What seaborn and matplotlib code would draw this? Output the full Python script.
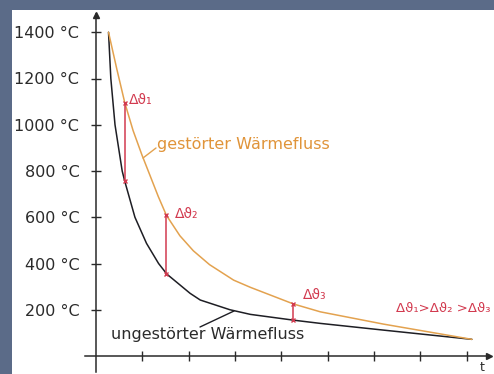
import numpy as np
import pandas as pd
import matplotlib
matplotlib.use("Agg")
import matplotlib.pyplot as plt
from matplotlib.patches import Rectangle
import seaborn as sns

# ---- data ----
t_ungestoert = [0.27, 0.32, 0.41, 0.565, 0.62, 0.84, 1.09, 1.35, 1.53, 2.03, 2.25, 2.89, 3.33, 4.26, 4.84, 6.2, 8.11]
T_ungestoert = [1400, 1200, 1000, 800, 756, 600, 487, 400, 354, 271, 242, 200, 180, 155, 141, 112, 72]

t_gestoert = [0.27, 0.45, 0.62, 0.8, 0.99, 1.345, 1.52, 1.81, 2.1, 2.45, 2.97, 3.33, 4.26, 4.84, 6.2, 8.11]
T_gestoert = [1400, 1240, 1096, 975, 870, 689, 608, 520, 455, 395, 328, 297, 225, 191, 138, 72]

delta_t = [0.62, 1.52, 4.26]
delta_top = [1096, 608, 225]
delta_bottom = [756, 354, 155]
delta_labels = ["Δϑ₁", "Δϑ₂", "Δϑ₃"]

y_ticks = [200, 400, 600, 800, 1000, 1200, 1400]
y_tick_labels = ["200 °C", "400 °C", "600 °C", "800 °C", "1000 °C", "1200 °C", "1400 °C"]
x_ticks = [1, 2, 3, 4, 5, 6, 7, 8]

label_gestoert = "gestörter Wärmefluss"
label_ungestoert = "ungestörter Wärmefluss"
label_relation = "Δϑ₁>Δϑ₂ >Δϑ₃"

# ---- style ----
sns.set_style("white")
plt.rcParams["font.family"] = ["DejaVu Sans"]

BORDER = "#5b6b88"
ORANGE = "#e3a24f"
ORANGE_TXT = "#e0943a"
BLACK = "#1e1e24"
RED = "#d23a4f"
AXIS = "#2a2a2a"
TXT = "#2b2b2b"

W, H = 494, 374
fig = plt.figure(figsize=(W / 100, H / 100), dpi=100, facecolor=BORDER)
fig.add_artist(Rectangle((12 / W, 0), 1 - 12 / W, (H - 9.5) / H,
                         transform=fig.transFigure, facecolor="white",
                         edgecolor="none", zorder=-5))
ax = fig.add_axes([0, 0, 1, 1])
ax.set_facecolor("none")

# pixel mapping: x_px = 96 + 46.35*t ; y_px = 356 - 46.25*T/200
px_x, sx = 96.0, 46.35
px_y, sy = 356.0, 46.25 / 200
ax.set_xlim(-px_x / sx, (W - px_x) / sx)
ax.set_ylim(-(H - px_y) / sy, px_y / sy)

df_u = pd.DataFrame({"t": t_ungestoert, "T": T_ungestoert})
df_g = pd.DataFrame({"t": t_gestoert, "T": T_gestoert})
sns.lineplot(data=df_u, x="t", y="T", ax=ax, color=BLACK, lw=1.1,
             sort=False, estimator=None, zorder=3)
sns.lineplot(data=df_g, x="t", y="T", ax=ax, color=ORANGE, lw=1.1,
             sort=False, estimator=None, zorder=3)

# delta markers
ax.vlines(delta_t, delta_bottom, delta_top, color=RED, lw=1.1, zorder=4)
ax.plot(delta_t, delta_top, ls="none", marker="x", ms=3.5, mew=1.0, color=RED, zorder=5)
ax.plot(delta_t, delta_bottom, ls="none", marker="x", ms=3.5, mew=1.0, color=RED, zorder=5)

def d(xp, yp):
    return ((xp - px_x) / sx, (px_y - yp) / sy)

label_pos = [d(129, 100), d(175, 214), d(303, 295)]
for (x, y), lab in zip(label_pos, delta_labels):
    ax.text(x, y, lab, color=RED, fontsize=10, ha="left", va="center")
ax.text(*d(396, 308), label_relation, color=RED, fontsize=9.5, ha="left", va="center")

# curve labels with leader lines
ax.text(*d(157, 145), label_gestoert, color=ORANGE_TXT, fontsize=11.5, ha="left", va="center")
(x0, y0), (x1, y1) = d(143, 158), d(156, 148)
ax.plot([x0, x1], [y0, y1], color=ORANGE, lw=1.0)
ax.text(*d(111, 335), label_ungestoert, color=TXT, fontsize=11.5, ha="left", va="center")
(x0, y0), (x1, y1) = d(200, 327), d(234, 311)
ax.plot([x0, x1], [y0, y1], color=BLACK, lw=1.0)
ax.text(*d(480, 361), "t", color=TXT, fontsize=9, ha="left", va="top")

# axes through origin
for s in ["top", "right"]:
    ax.spines[s].set_visible(False)
ax.spines["left"].set_position(("data", 0))
ax.spines["bottom"].set_position(("data", 0))
ax.spines["left"].set_bounds(d(0, 372)[1], d(0, 14)[1])
ax.spines["bottom"].set_bounds(d(85, 0)[0], d(490, 0)[0])
for s in ["left", "bottom"]:
    ax.spines[s].set_color(AXIS)
    ax.spines[s].set_linewidth(1.1)
ax.plot([0], [d(0, 15)[1]], marker="^", ms=5, color=AXIS, clip_on=False)
ax.plot([d(489, 0)[0]], [0], marker=">", ms=5, color=AXIS, clip_on=False)

ax.set_yticks(y_ticks)
ax.set_yticklabels(y_tick_labels)
ax.set_xticks(x_ticks)
ax.set_xticklabels([])
ax.tick_params(axis="both", direction="inout", length=7, width=1.0, color=AXIS,
               left=True, bottom=True)
ax.tick_params(axis="y", labelsize=11.5, labelcolor=TXT, pad=8.5)
ax.set_xlabel("")
ax.set_ylabel("")
ax.grid(False)

fig.savefig("out.png", dpi=100, facecolor=BORDER)
